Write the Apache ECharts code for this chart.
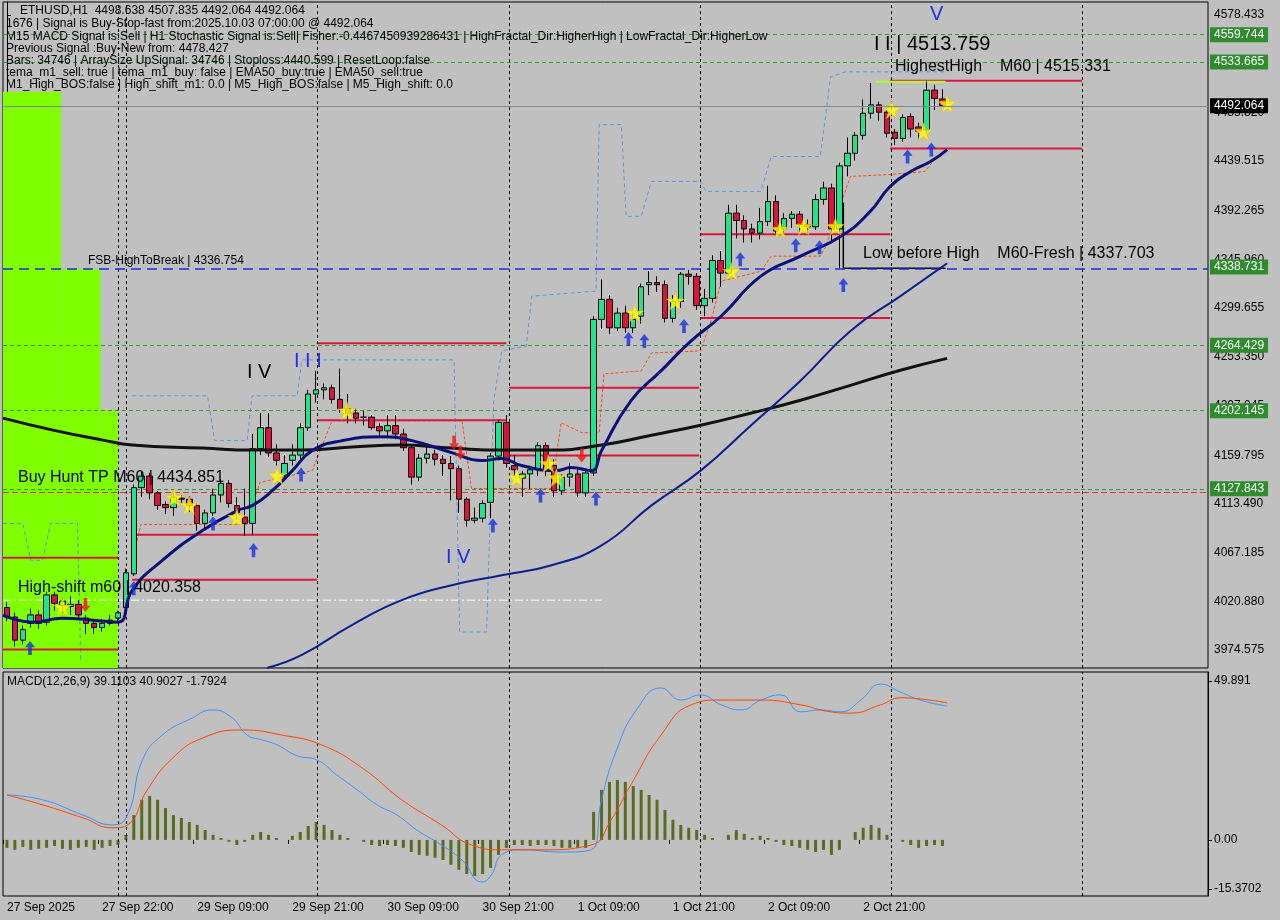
<!DOCTYPE html>
<html><head><meta charset="utf-8">
<script src="https://cdn.jsdelivr.net/npm/echarts@6/dist/echarts.min.js"></script>
<style>html,body{margin:0;padding:0;background:#c0c0c0}#c{width:1280px;height:920px}</style>
</head><body><div id="c"></div>
<script>
// OHLC rows: [open, close, low, high]
const candles = [
[4015,4006,4002,4020],[4006,3984,3978,4010],[3984,3994,3980,3998],[4000,4008,3996,4014],[4008,4000,3995,4012],
[4001,4027,3998,4030],[4027,4019,4012,4030],[4017,4021,4010,4024],[4016,4018,4008,4026],[4018,4008,4004,4022],
[4005,4000,3990,4008],[4000,3996,3990,4003],[3996,4000,3992,4004],[4000,4003,3998,4008],[4005,4010,4002,4012],
[4015,4048,4012,4052],[4047,4129,4045,4132],[4129,4140,4120,4144],[4140,4124,4118,4143],[4124,4112,4108,4126],
[4113,4110,4104,4116],[4110,4120,4102,4124],[4119,4118,4114,4122],[4118,4112,4106,4121],[4112,4095,4088,4114],
[4095,4105,4090,4108],[4105,4122,4102,4128],[4122,4133,4115,4137],[4133,4114,4110,4136],[4112,4105,4098,4120],
[4101,4095,4083,4128],[4095,4166,4084,4180],[4166,4186,4160,4200],[4186,4162,4158,4200],[4162,4155,4150,4170],
[4141,4152,4136,4160],[4155,4160,4150,4170],[4160,4186,4155,4190],[4186,4218,4183,4222],[4218,4222,4210,4240],
[4222,4224,4213,4228],[4224,4213,4209,4227],[4213,4204,4200,4242],[4204,4200,4190,4218],[4200,4195,4190,4204],
[4196,4196,4188,4202],[4196,4186,4184,4198],[4187,4183,4176,4190],[4183,4188,4178,4198],[4188,4180,4175,4198],
[4180,4167,4164,4185],[4167,4139,4132,4170],[4139,4157,4135,4161],[4157,4161,4152,4168],[4161,4156,4150,4165],
[4156,4152,4140,4160],[4152,4147,4117,4159],[4147,4118,4105,4150],[4118,4098,4092,4120],[4098,4100,4095,4110],
[4100,4114,4096,4117],[4115,4159,4100,4162],[4159,4191,4155,4194],[4191,4152,4148,4198],[4150,4146,4140,4160],
[4138,4142,4120,4145],[4142,4146,4128,4150],[4146,4169,4140,4172],[4169,4145,4140,4172],[4150,4126,4120,4156],
[4126,4139,4122,4142],[4139,4142,4130,4152],[4142,4124,4120,4146],[4124,4143,4120,4146],[4143,4289,4140,4292],
[4289,4308,4280,4327],[4308,4281,4275,4312],[4281,4295,4278,4300],[4295,4281,4276,4302],[4281,4289,4276,4295],
[4292,4320,4285,4323],[4322,4324,4312,4335],[4324,4322,4315,4330],[4322,4290,4286,4326],[4290,4306,4286,4312],
[4306,4332,4300,4334],[4332,4330,4322,4336],[4330,4302,4298,4333],[4302,4309,4292,4318],[4309,4345,4305,4350],
[4345,4333,4320,4354],[4333,4390,4330,4398],[4390,4383,4366,4398],[4383,4375,4362,4388],[4375,4371,4362,4380],
[4371,4382,4365,4395],[4382,4401,4378,4416],[4401,4373,4368,4407],[4375,4385,4370,4390],[4385,4389,4376,4392],
[4389,4379,4372,4392],[4379,4377,4370,4384],[4377,4403,4374,4408],[4403,4414,4398,4420],[4414,4375,4362,4418],
[4375,4435,4337.7,4438],[4435,4447,4425,4462],[4447,4464,4440,4467],[4464,4485,4460,4498],[4485,4493,4480,4513.8],
[4493,4486,4478,4496],[4486,4466,4462,4490],[4467,4461,4455,4470],[4461,4481,4458,4484],[4482,4470,4462,4485],
[4472,4468,4460,4476],[4469,4507,4466,4515.3],[4507,4499,4488,4512],[4498.6,4492.1,4492.1,4507.8]
];
const histogram = [-2.5,-3.1,-2.2,-3.1,-2.8,-2.5,-1.9,-2.8,-3.1,-2.5,-2.2,-3.1,-2.5,-1.9,-1.6,
1.6,7.8,12.6,13.8,12.6,10,7.8,6.9,5.6,4.7,3.1,1.6,0.6,-0.6,-1.6,-0.6,1.6,2.5,1.6,0.6,0,1.3,2.5,4.4,5.6,
4.7,3.1,1.6,0.6,0,-0.6,-1.6,-1.9,-1.6,-1.9,-2.5,-3.8,-4.7,-5,-5.6,-6.3,-7.8,-9.4,-10.7,-11.3,-10.7,-8.8,-4.7,-2.5,-1.6,
-1.6,-1.9,-1.6,-1.6,-1.9,-2.5,-2.5,-2.5,-2.5,8.8,15.7,18.2,18.8,18.2,16.9,15.7,14.1,12.6,9.4,6.3,4.7,3.8,3.1,1.6,0.6,
0,1.6,3.1,1.9,0.6,1.3,0.6,-0.6,-1.6,-1.9,-2.5,-3.1,-3.8,-3.1,-4.7,-3.1,0,2.5,3.8,4.7,3.8,1.6,0,-0.6,-1.6,-2.5,-1.9,-1.6,-1.9];
const macdLine = [[0,14.1],[4.5,12.6],[9.6,7.8],[13.3,4.7],[15.2,7.8],[17.1,25.1],[19.6,32.9],[23.4,38.3],[25.9,40.8],[28.4,38.3],[30.3,32.9],[32.2,31.4],[34.1,29.8],[36.6,26.4],[39.1,25.1],[41.6,20.4],[44.2,15.7],[46.7,11],[49.2,7.8],[51.7,3.1],[54.8,-1.6],[57.4,-6.3],[59.9,-13.2],[61.1,-11],[62.4,-4.7],[64.9,-3.1],[69.9,-3.8],[73.7,-3.1],[75,12.6],[76.9,28.2],[79.4,40.8],[82.5,47.7],[85,43.9],[87.5,45.5],[90.1,42.4],[92.6,40.8],[95.1,43.9],[97.6,45.5],[100.1,40.2],[102.6,40.8],[105.2,40.2],[107.7,43.9],[110.2,48.9],[112.7,46.4],[115.2,43.9],[118.6,42]];
const signalLine = [[0,14.1],[4.5,11],[9.6,6.9],[13.3,3.8],[15.2,4.7],[17.7,15.7],[20.9,25.7],[24.7,32],[29.7,34.5],[34.7,32.9],[39.7,29.8],[44.8,22.6],[49.8,12.6],[54.8,4.7],[58.6,-1.6],[62.4,-3.1],[67.4,-3.1],[73.7,-1.6],[76.2,6.3],[78.7,17.3],[82.5,32.9],[86.3,42.4],[90.1,43.9],[95.1,43.9],[100.1,42.4],[103.9,40.2],[106.4,39.8],[110.2,42.4],[112.7,44.6],[118.6,43]];
const emaFast = [[-0.5,4007.8],[3.3,4001.1],[7,4004.9],[10.8,4003],[14,4001.1],[15.8,4031.5],[19.6,4059.9],[24.7,4088.4],[29.1,4107.3],[31,4112.1],[33.5,4126.3],[36,4145.2],[38.5,4164.2],[42.3,4173.7],[47.3,4177.5],[51.1,4173.7],[56.1,4162.3],[59.9,4154.7],[62.4,4156.6],[64.9,4150],[69.3,4145.2],[71.2,4148.1],[73.7,4145.2],[75,4164.2],[78.7,4211.6],[82.5,4240],[86.3,4268.5],[90.1,4292.2],[95.1,4330.1],[100.1,4349.1],[105.2,4368],[108.9,4391.7],[111.4,4415.4],[114,4429.6],[116.5,4439.1],[118.6,4450.5]];
const emaSlow = [[32.8,3957.5],[37.2,3969.9],[43.5,3998.3],[49.8,4022],[56.1,4036.2],[62.4,4045.7],[68.7,4055.2],[75,4074.1],[81.3,4112.1],[87.5,4145.2],[93.8,4187.9],[100.1,4230.6],[106.4,4278],[112.7,4311.1],[118.6,4342.4]];
const ema200 = [[-0.5,4195.1],[5.8,4183.7],[12.1,4174.2],[15.8,4169.5],[24.7,4166.6],[30.9,4164.7],[37.2,4164.7],[43.5,4167.6],[49.8,4169.5],[56.1,4166.6],[62.4,4164.7],[68.7,4164.7],[75,4169.5],[81.3,4178.9],[87.5,4188.4],[93.8,4199.8],[100.1,4212.1],[106.4,4226.3],[112.7,4240.6],[118.6,4251.9]];
const upperBand = [[-0.5,4095],[2,4095],[3,4059.9],[4.5,4059.9],[5.5,4095],[8.9,4095],[9.3,3965],[null,null],[15.8,4216.3],[25.3,4216.3],[26.2,4173.7],[30.3,4173.7],[30.9,4216.3],[36.6,4216.3],[37.2,4250.5],[56.4,4250.5],[57.1,3991.7],[60.5,3991.7],[61.4,4211.6],[62.4,4259],[65.5,4263.7],[66.2,4311.1],[74.3,4315.9],[74.7,4474.2],[77.5,4474.2],[78.1,4387],[80,4387],[81.3,4420.2],[87.5,4420.2],[88.2,4410.7],[95.1,4410.7],[96.4,4443.9],[102.6,4443.9],[103.9,4519.7],[105.8,4524.4],[118.4,4524.4]];
const lowerBand = [[15.8,4059.9],[16.9,4094],[30.3,4094],[31.9,4133.9],[38.5,4145.2],[41,4192.6],[57.4,4192.6],[58.6,4128.2],[68.7,4128.2],[69.9,4190.7],[72.5,4181.3],[74.7,4181.3],[75.3,4237.2],[80,4240],[81.3,4257.1],[87.5,4259],[88.8,4287.4],[90.1,4325.4],[95.1,4334.8],[96.4,4349.1],[102.6,4349.1],[103.3,4358.5],[106.4,4424.9],[111.4,4426.8],[115.8,4429.6],[117.1,4442]];
// horizontal level segments [x1,x2,price]
const redLevels = [[39.1,63,4266.3],[39.1,63,4193.2],[15.8,39.1,4084.1],[15.8,39.1,4041.5],[-0.5,14,4062.4],[-0.5,14,3975],[63.4,87.3,4223.9],[63.4,87.3,4159.5],[87.5,111.4,4290.3],[87.5,111.4,4370],[111.4,135.6,4451.4],[111.4,135.6,4516]];
const greenDashLevels = [4559.744,4533.665,4264.429,4202.145,4127.843];
const boxLevels = [4559.744,4533.665,4338.731,4264.429,4202.145,4127.843];
const priceTicks = [3974.575,4020.880,4067.185,4113.490,4159.795,4207.045,4253.350,4299.655,4345.960,4392.265,4439.515,4485.820,4578.433];
const macdTicks = [-15.3702,0,49.891];
const timeLabels = {0:'27 Sep 2025',12:'27 Sep 22:00',24:'29 Sep 09:00',36:'29 Sep 21:00',48:'30 Sep 09:00',60:'30 Sep 21:00',72:'1 Oct 09:00',84:'1 Oct 21:00',96:'2 Oct 09:00',108:'2 Oct 21:00'};
const stars = [[7,4015.4],[21.1,4119.6],[23,4112.1],[29,4100.7],[34.1,4140.5],[42.9,4202.1],[64.3,4138.6],[68.3,4151.9],[69.3,4138.6],[79.2,4295],[84.3,4306.4],[91.4,4334.8],[97.5,4374.7],[100.5,4377.5],[104.5,4377.5],[111.6,4488.4],[115.6,4467.6],[118.6,4494.1]];
const upArrows = [[2.9,3976.5],[16,4033.4],[26,4095],[31.1,4069.4],[37.1,4141.4],[61.3,4093.1],[67.3,4121.5],[74.3,4118.7],[78.4,4270.4],[80.4,4268.5],[85.4,4282.7],[92.5,4346.2],[99.5,4359.5],[102.5,4357.6],[105.5,4321.6],[113.6,4443.9],[116.6,4450.5]];
const downArrows = [[9.9,4017.3],[56.4,4171.8],[57.2,4162.3],[72.5,4159.5]];
const vLines = [14,15,39.1,63.3,87.4,111.6,135.7];

const N = 152;
const cats = Array.from({length:N},(_,i)=>String(i));
const cData = candles.map(r=>[r[0],r[1],r[2],r[3]]);
const FONT = 'Liberation Sans';

const boxLabel=(t,bg)=>({show:true,position:'end',distance:2,formatter:t,color:'#fff',backgroundColor:bg,padding:[2,4,1,4],fontSize:12,fontFamily:FONT});
const series = [];
series.push({type:'candlestick',xAxisIndex:0,yAxisIndex:0,data:cData,barWidth:6,
  itemStyle:{color:'#1ee68c',color0:'#dc143c',borderColor:'#000',borderColor0:'#000',borderWidth:1},z:5,
  markLine:{silent:true,symbol:'none',animation:false,z:20,data:[
    ...boxLevels.map(v=>({yAxis:v,lineStyle:{color:'rgba(0,0,0,0)',width:1},label:boxLabel(v.toFixed(3),'#2e8b2e')})),
    {yAxis:4492.064,lineStyle:{color:'#7a8a99',width:1,type:'solid'},label:boxLabel('4492.064','#000')}
  ]}});
series.push({type:'line',xAxisIndex:1,yAxisIndex:0,data:[],markLine:{silent:true,symbol:'none',animation:false,data:[
  ...greenDashLevels.map(v=>({yAxis:v,lineStyle:{color:'#2a9a2a',type:[4,3],width:1},label:{show:false}})),
  {yAxis:4336.754,lineStyle:{color:'#1a2ee6',type:[10,6],width:1.5},label:{show:false}},
  {yAxis:4124.4,lineStyle:{color:'#e03030',type:[6,3],width:1},label:{show:false}},
  ...vLines.map(x=>({xAxis:x,lineStyle:{color:'#000',type:[3,3],width:1},label:{show:false}}))
 ]},
 markArea:{silent:true,itemStyle:{color:'#7fff00'},data:[
  [{coord:[-0.5,4505.5]},{coord:[6.8,3957.5]}],
  [{coord:[6.8,4336.7]},{coord:[11.8,3957.5]}],
  [{coord:[11.8,4202.2]},{coord:[14,3957.5]}]
 ]},z:1});
series.push({type:'line',xAxisIndex:1,yAxisIndex:0,data:[[-0.5,4022],[75,4022]],symbol:'none',lineStyle:{color:'#fff',type:[8,3,2,3],width:1},z:3});
series.push({type:'line',xAxisIndex:1,yAxisIndex:0,data:upperBand,symbol:'none',connectNulls:false,lineStyle:{color:'#5b8fe8',type:[4,3],width:1},z:3});
series.push({type:'line',xAxisIndex:1,yAxisIndex:0,data:lowerBand,symbol:'none',lineStyle:{color:'#ff4500',type:[3,2],width:1},z:3});
redLevels.forEach(s=>series.push({type:'line',xAxisIndex:1,yAxisIndex:0,data:[[s[0],s[2]],[s[1],s[2]]],symbol:'none',lineStyle:{color:'#dc143c',width:2},z:4}));
series.push({type:'line',xAxisIndex:1,yAxisIndex:0,data:[[109.6,4515],[118.4,4515]],symbol:'none',lineStyle:{color:'#adff2f',width:2},z:4});
series.push({type:'line',xAxisIndex:1,yAxisIndex:0,data:[[105.5,4400],[105.5,4337.7],[118.4,4337.7]],symbol:'none',lineStyle:{color:'#000',width:1.5},z:4});
series.push({type:'line',xAxisIndex:1,yAxisIndex:0,data:ema200,symbol:'none',smooth:true,lineStyle:{color:'#111',width:3},z:6});
series.push({type:'line',xAxisIndex:1,yAxisIndex:0,data:emaSlow,symbol:'none',smooth:true,lineStyle:{color:'#0c1f8a',width:2},z:6});
series.push({type:'line',xAxisIndex:1,yAxisIndex:0,data:emaFast,symbol:'none',smooth:true,lineStyle:{color:'#0a1078',width:3},z:6});
const STAR='path://M50,0 L61,35 98,35 68,57 79,91 50,70 21,91 32,57 2,35 39,35 Z';
const UP='path://M50,0 L100,45 68,45 68,100 32,100 32,45 0,45 Z';
const DOWN='path://M32,0 L68,0 68,55 100,55 50,100 0,55 32,55 Z';
series.push({type:'scatter',xAxisIndex:1,yAxisIndex:0,data:stars,symbol:STAR,symbolSize:18,itemStyle:{color:'#ffff00',borderColor:'#ffb000',borderWidth:0.5},z:8});
series.push({type:'scatter',xAxisIndex:1,yAxisIndex:0,data:upArrows,symbol:UP,symbolSize:[10,14],itemStyle:{color:'#1030e0'},z:8});
series.push({type:'scatter',xAxisIndex:1,yAxisIndex:0,data:downArrows,symbol:DOWN,symbolSize:[10,14],itemStyle:{color:'#f01010'},z:8});
// MACD pane
series.push({type:'bar',xAxisIndex:2,yAxisIndex:1,data:histogram,barWidth:3,itemStyle:{color:'#5a6b1e'},z:3});
series.push({type:'line',xAxisIndex:3,yAxisIndex:1,data:macdLine,symbol:'none',smooth:true,lineStyle:{color:'#3a8fff',width:1},z:5,
  markLine:{silent:true,symbol:'none',animation:false,data:vLines.map(x=>({xAxis:x,lineStyle:{color:'#000',type:[3,3],width:1},label:{show:false}}))}});
series.push({type:'line',xAxisIndex:3,yAxisIndex:1,data:signalLine,symbol:'none',smooth:true,lineStyle:{color:'#ff4500',width:1},z:5});

const txt=(x,y,t,size,color)=>({type:'text',left:x,top:y,z:100,style:{text:t,fontSize:size||12,fill:color||'#000',fontFamily:FONT}});
const option = {
  animation:false,
  backgroundColor:'#c0c0c0',
  grid:[{left:3,right:72,top:2,height:666,show:true,borderColor:'#000',borderWidth:1},
        {left:3,right:72,top:672,height:224,show:true,borderColor:'#000',borderWidth:1}],
  xAxis:[
    {type:'category',gridIndex:0,data:cats,boundaryGap:true,show:false},
    {type:'value',gridIndex:0,min:-0.5,max:151.5,show:false},
    {type:'category',gridIndex:1,data:cats,boundaryGap:true,axisLine:{show:false},
      axisTick:{show:true,interval:(i)=>timeLabels[i]!==undefined,length:4,lineStyle:{color:'#000'}},
      axisLabel:{interval:(i)=>timeLabels[i]!==undefined,formatter:(v,i)=>timeLabels[i]||'',align:'left',color:'#000',fontSize:12,fontFamily:FONT,margin:6}},
    {type:'value',gridIndex:1,min:-0.5,max:151.5,show:false}
  ],
  yAxis:[
    {type:'value',gridIndex:0,position:'right',min:3957.5,max:4590.8,splitLine:{show:false},
      axisLine:{show:true,lineStyle:{color:'#000'}},axisTick:{show:true,customValues:priceTicks,length:4},
      axisLabel:{customValues:priceTicks,formatter:v=>v.toFixed(3),color:'#000',fontSize:12,fontFamily:FONT,margin:6}},
    {type:'value',gridIndex:1,position:'right',min:-17.6,max:52.7,splitLine:{show:false},
      axisLine:{show:true,onZero:false,lineStyle:{color:'#000'}},axisTick:{show:true,customValues:macdTicks,length:4},
      axisLabel:{customValues:macdTicks,formatter:v=>v===0?'0.00':String(v),color:'#000',fontSize:12,fontFamily:FONT,margin:6}}
  ],
  series,
  graphic:[
    txt(20,5,'ETHUSD,H1  4498.638 4507.835 4492.064 4492.064'),
    txt(6,18,'1676 | Signal is Buy-Stop-fast from:2025.10.03 07:00:00 @ 4492.064'),
    txt(6,31,'M15 MACD Signal is:Sell | H1 Stochastic Signal is:Sell| Fisher:-0.4467450939286431 | HighFractal_Dir:HigherHigh | LowFractal_Dir:HigherLow'),
    txt(6,43,'Previous Signal :Buy-New from: 4478.427'),
    txt(6,55,'Bars: 34746 | ArraySize UpSignal: 34746 | Stoploss:4440.599 | ResetLoop:false'),
    txt(6,67,'tema_m1_sell: true | tema_m1_buy: false | EMA50_buy:true | EMA50_sell:true'),
    txt(6,79,'M1_High_BOS:false | High_shift_m1: 0.0 | M5_High_BOS:false | M5_High_shift: 0.0'),
    txt(247,362,'I V',20,'#000'),
    txt(294,351,'I I I',20,'#1a2ee6'),
    txt(446,547,'I V',20,'#1a2ee6'),
    txt(930,4,'V',20,'#1a2ee6'),
    txt(874,34,'I I | 4513.759',20,'#000'),
    txt(895,59,'HighestHigh    M60 | 4515.331',16,'#000'),
    txt(863,246,'Low before High    M60-Fresh | 4337.703',16,'#000'),
    txt(88,255,'FSB-HighToBreak | 4336.754',12,'#000'),
    txt(18,470,'Buy Hunt TP M60 | 4434.851',16,'#000'),
    txt(18,580,'High-shift m60 | 4020.358',16,'#000'),
    txt(7,676,'MACD(12,26,9) 39.1103 40.9027 -1.7924',12,'#000')
  ]
};
echarts.init(document.getElementById('c')).setOption(option);
</script></body></html>
